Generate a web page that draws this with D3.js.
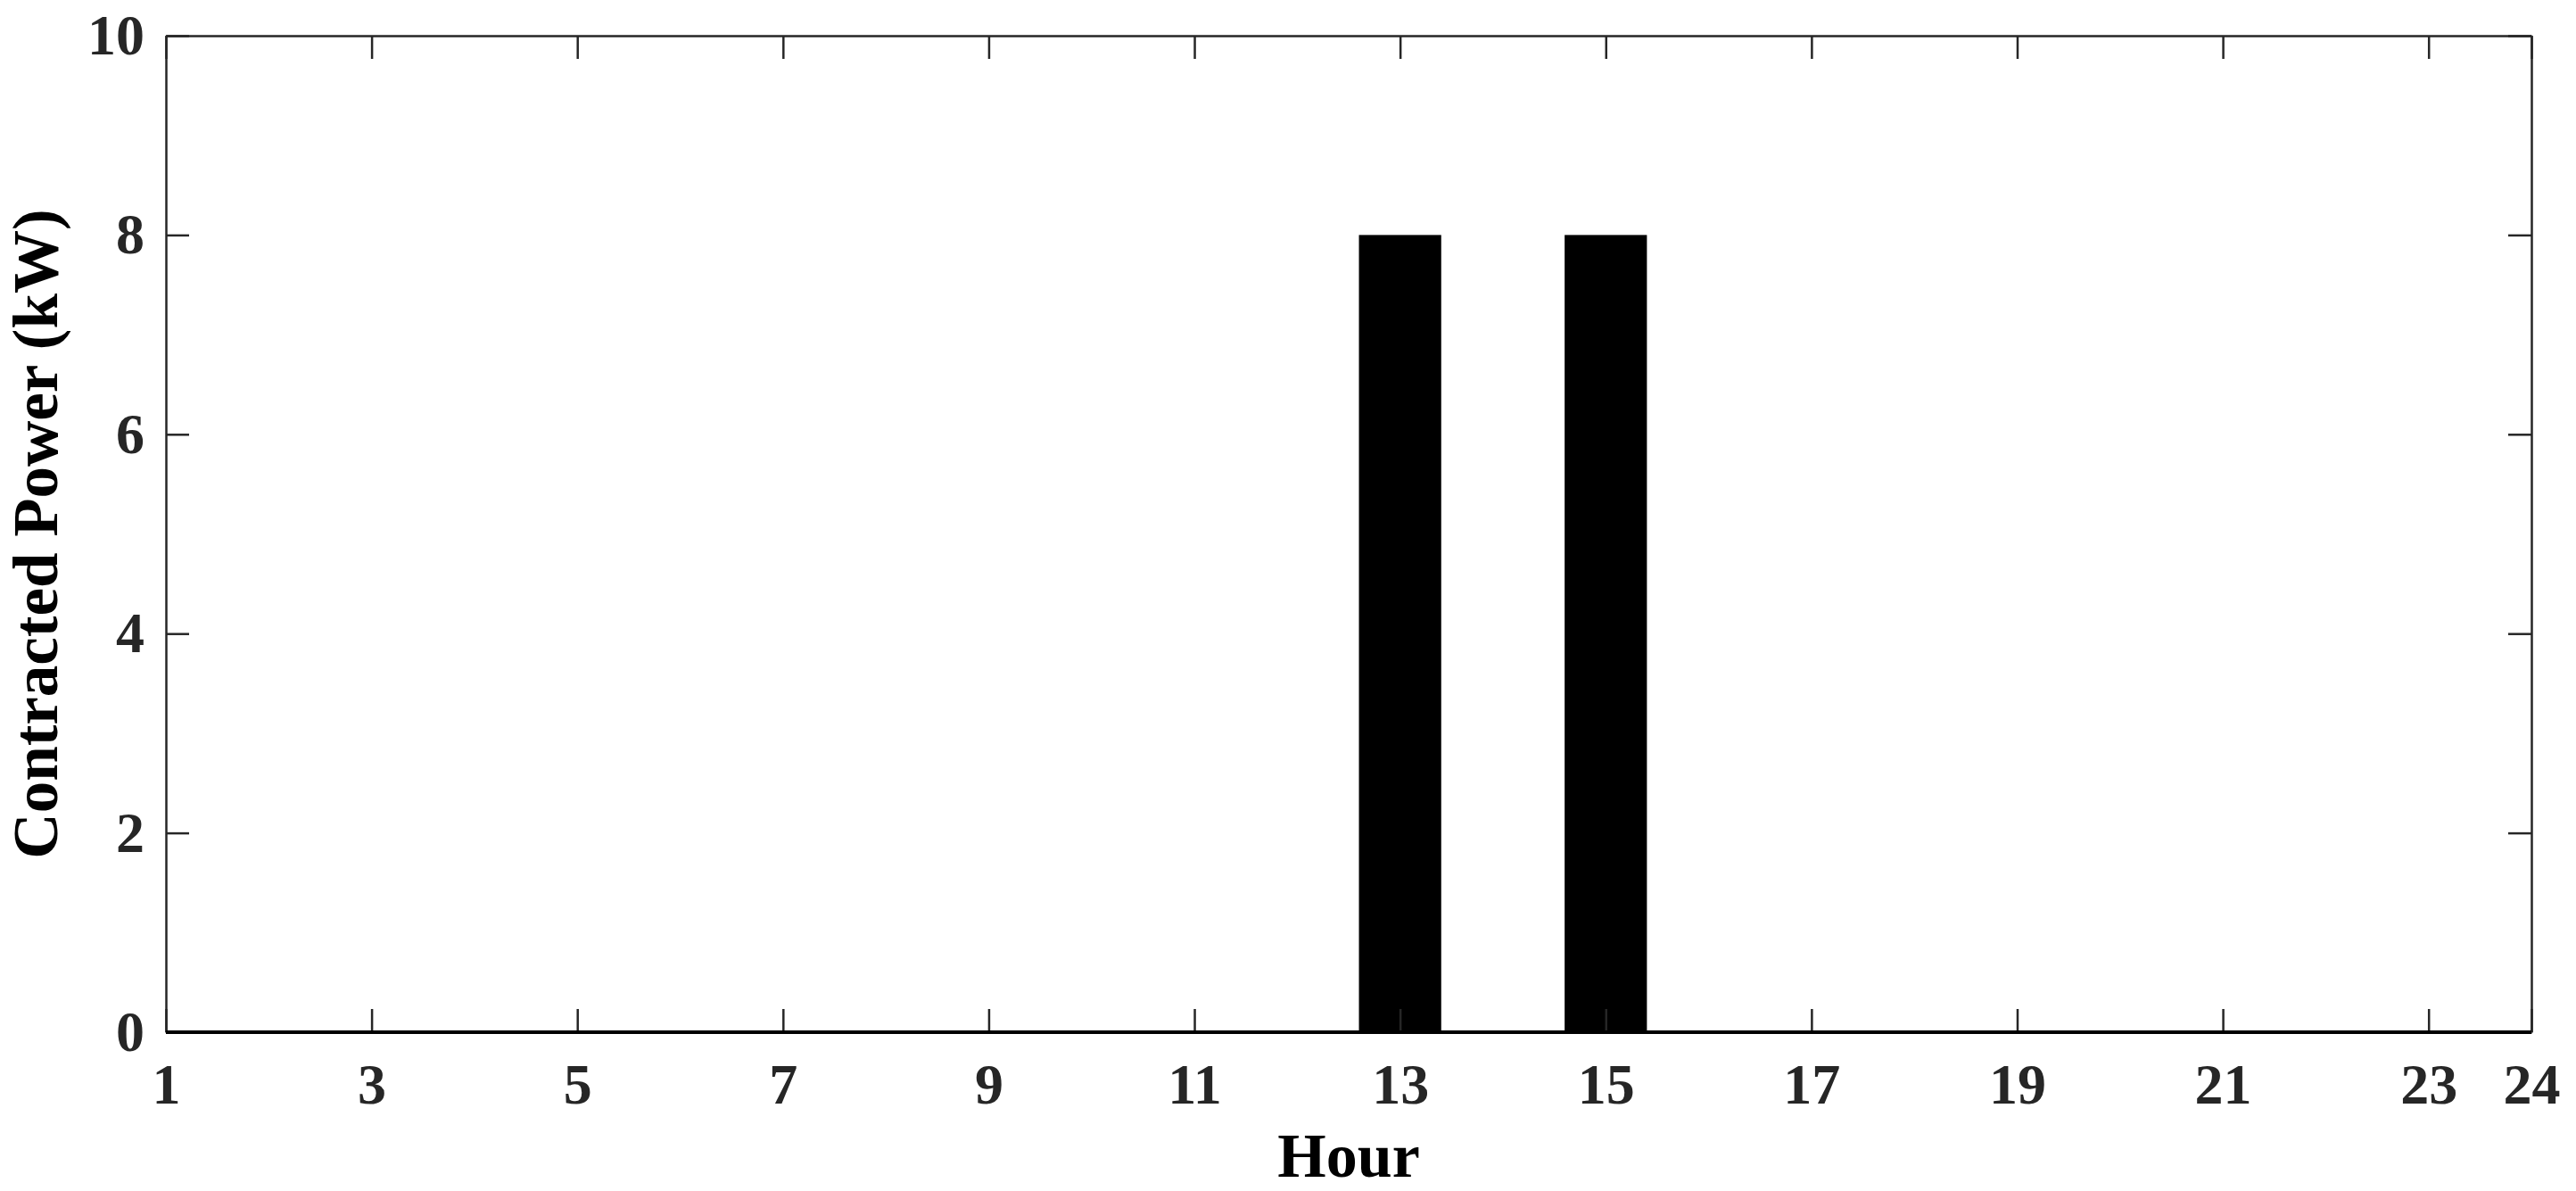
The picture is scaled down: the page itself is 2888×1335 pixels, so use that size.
<!DOCTYPE html>
<html>
<head>
<meta charset="utf-8">
<script src="https://cdn.jsdelivr.net/npm/d3@7"></script>
<style>
    body { margin: 0; background: #fff; }
    text { font-family: "Liberation Serif", "Times New Roman", serif; font-weight: bold; fill: #262626; }
</style>
</head>
<body>
<script>
//chart data
var hours = d3.range(1, 25);
var power = [0, 0, 0, 0, 0, 0, 0, 0, 0, 0, 0, 0, 8, 0, 8, 0, 0, 0, 0, 0, 0, 0, 0, 0];
var xTicks = [1, 3, 5, 7, 9, 11, 13, 15, 17, 19, 21, 23, 24];
var yTicks = [0, 2, 4, 6, 8, 10];

//frame dimensions
var width = 2888,
    height = 1335,
    margin = {top: 40, right: 50, bottom: 178, left: 186};

var svg = d3.select("body")
    .append("svg")
    .attr("width", width)
    .attr("height", height);

var x = d3.scaleLinear()
    .domain([1, 24])
    .range([margin.left, width - margin.right]);

var y = d3.scaleLinear()
    .domain([0, 10])
    .range([height - margin.bottom, margin.top]);

var barWidth = 0.8; //in hours, like MATLAB default

//bars
svg.selectAll(".bars")
    .data(hours.map(function(h, i){ return {hour: h, val: power[i]}; }).filter(function(d){ return d.val > 0; }))
    .enter()
    .append("rect")
    .attr("class", "bars")
    .attr("x", function(d){ return x(d.hour - barWidth / 2); })
    .attr("width", function(d){ return x(d.hour + barWidth / 2) - x(d.hour - barWidth / 2); })
    .attr("y", function(d){ return y(d.val); })
    .attr("height", function(d){ return y(0) - y(d.val); })
    .style("fill", "#000");

var tickLen = 26;

//axes, ticks pointing inwards
svg.append("g")
    .attr("transform", "translate(0," + y(0) + ")")
    .call(d3.axisBottom(x).tickValues(xTicks).tickSizeInner(-tickLen).tickSizeOuter(0).tickPadding(35))
    .call(styleAxis);

svg.append("g")
    .attr("transform", "translate(0," + y(10) + ")")
    .call(d3.axisTop(x).tickValues(xTicks).tickSizeInner(-tickLen).tickSizeOuter(0).tickFormat(""))
    .call(styleAxis);

svg.append("g")
    .attr("transform", "translate(" + x(1) + ",0)")
    .call(d3.axisLeft(y).tickValues(yTicks).tickSizeInner(-tickLen).tickSizeOuter(0).tickPadding(24))
    .call(styleAxis);

svg.append("g")
    .attr("transform", "translate(" + x(24) + ",0)")
    .call(d3.axisRight(y).tickValues(yTicks).tickSizeInner(-tickLen).tickSizeOuter(0).tickFormat(""))
    .call(styleAxis);

//zero-height bar edges make the baseline look heavier
svg.append("line")
    .attr("x1", x(1))
    .attr("x2", x(24))
    .attr("y1", y(0))
    .attr("y2", y(0))
    .style("stroke", "#000")
    .style("stroke-width", 4);

function styleAxis(g){
    g.selectAll("path")
        .style("stroke", "#262626")
        .style("stroke-width", 2.5);
    g.selectAll("line")
        .style("stroke", "#262626")
        .style("stroke-width", 2.5);
    g.selectAll("text")
        .style("font-family", "'Liberation Serif', 'Times New Roman', serif")
        .style("font-weight", "bold")
        .style("font-size", "64px")
        .style("fill", "#262626");
}

//axis titles
svg.append("text")
    .attr("x", (x(1) + x(24)) / 2)
    .attr("y", 1319)
    .attr("text-anchor", "middle")
    .style("font-size", "70px")
    .style("fill", "#000")
    .text("Hour");

svg.append("text")
    .attr("transform", "translate(64," + (y(0) + y(10)) / 2 + ") rotate(-90)")
    .attr("text-anchor", "middle")
    .style("font-size", "71px")
    .style("fill", "#000")
    .text("Contracted Power (kW)");
</script>
</body>
</html>
